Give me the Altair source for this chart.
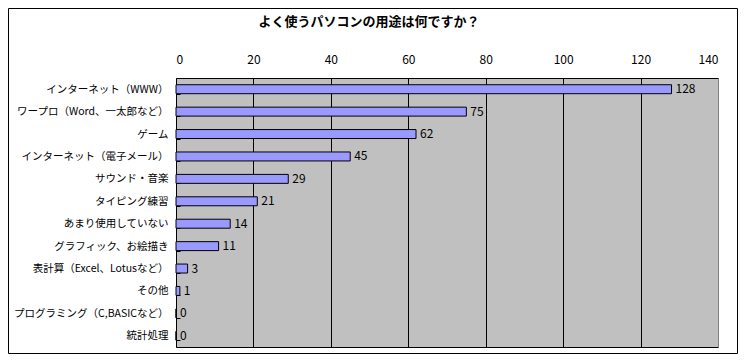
import altair as alt
import pandas as pd

categories = [
    "インターネット（WWW）",
    "ワープロ（Word、一太郎など）",
    "ゲーム",
    "インターネット（電子メール）",
    "サウンド・音楽",
    "タイピング練習",
    "あまり使用していない",
    "グラフィック、お絵描き",
    "表計算（Excel、Lotusなど）",
    "その他",
    "プログラミング（C,BASICなど）",
    "統計処理",
]
values = [128, 75, 62, 45, 29, 21, 14, 11, 3, 1, 0, 0]
x_ticks = [0, 20, 40, 60, 80, 100, 120, 140]
chart_title = "よく使うパソコンの用途は何ですか？"

df = pd.DataFrame({"用途": categories, "回答数": values})

FONT = "Noto Sans CJK JP"
W, H = 542, 269
PAD = {"left": 168, "top": 70, "right": 20, "bottom": 7}

y_enc = alt.Y(
    "用途:N",
    sort=categories,
    scale=alt.Scale(paddingInner=0.6, paddingOuter=0.3),
    axis=alt.Axis(
        title=None, offset=-4, domain=False, ticks=True, tickSize=4,
        tickBand="extent", tickColor="black", tickWidth=1,
        labelPadding=8, labelFontSize=10.5, labelFont=FONT,
        labelColor="black", labelLimit=220,
    ),
)
x_enc = alt.X(
    "回答数:Q",
    scale=alt.Scale(domain=[0, 140], nice=False),
    axis=alt.Axis(
        orient="top", values=x_ticks, title=None, grid=True,
        gridColor={"condition": {"test": "datum.value === 140", "value": "#808080"}, "value": "black"},
        gridOpacity=1, gridWidth=1, ticks=False, domain=False,
        labelPadding=12, labelFontSize=12, labelFont=FONT, labelColor="black",
    ),
)

bars = alt.Chart(df).mark_bar(color="#9999FF", stroke="black", strokeWidth=1).encode(
    x=x_enc, y=y_enc
)
labels = alt.Chart(df).mark_text(
    align="left", baseline="middle", dx=4, fontSize=12, font=FONT, color="black"
).encode(x="回答数:Q", y=alt.Y("用途:N", sort=categories), text="回答数:Q")

frame = alt.Chart(pd.DataFrame({"f": [0]})).mark_rect(
    fill="transparent", stroke="black", strokeWidth=1
).encode(
    x=alt.value(-PAD["left"] + 0.5),
    x2=alt.value(W + PAD["right"] - 0.5),
    y=alt.value(-PAD["top"] + 0.5),
    y2=alt.value(H + PAD["bottom"] - 0.5),
)

chart = alt.layer(bars, labels, frame).properties(
    width=W,
    height=H,
    autosize=alt.AutoSizeParams(type="none"),
    padding=PAD,
    background="white",
    title=alt.TitleParams(
        chart_title, font=FONT, fontSize=13, fontWeight="bold", color="black",
        anchor="middle", frame="group", dx=-78, offset=14, dy=35,
    ),
).configure_view(fill="#C0C0C0", stroke="black", strokeWidth=1)

chart.save("out.html", embed_options={"renderer": "svg", "actions": False})
